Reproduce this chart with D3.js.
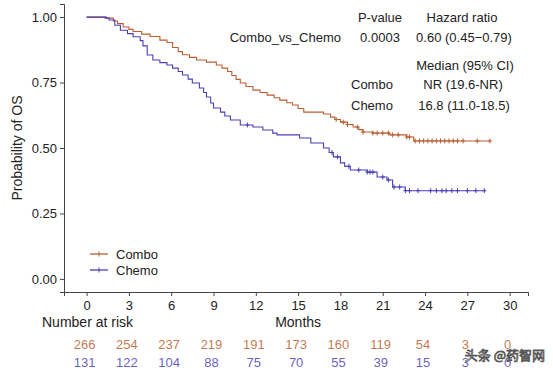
<!DOCTYPE html>
<html>
<head>
  <meta charset="utf-8">
  <title>OS Kaplan-Meier</title>
  <script src="https://cdn.jsdelivr.net/npm/d3@7"></script>
  <style>
    body { margin: 0; background: #fff; }
    svg { font-family: "Liberation Sans", Arial, sans-serif; }
    .axis path, .axis line { stroke: #444; }
    .axis text { fill: #222; font-size: 13px; }
    text.note { font-size: 13px; fill: #222; }
  </style>
</head>
<body>
<svg id="km"></svg>
<script>
// Kaplan-Meier steps (months, survival probability)
var comboTime = [0, 1.3, 1.9, 2.2, 2.6, 3.0, 3.3, 3.9, 4.5, 5.2, 5.7, 6.1, 6.5, 6.8, 7.3, 7.8, 8.5, 9.2, 9.6, 10.0,
  10.3, 10.6, 10.9, 11.3, 11.8, 12.3, 12.8, 13.3, 13.7, 14.2, 14.6, 15.0, 15.4, 16.8, 17.3, 17.6, 18.0, 18.5, 18.9, 19.3,
  19.6, 20.3, 21.5, 22.7, 23.2];
var comboSurv = [1, 0.996, 0.985, 0.975, 0.962, 0.953, 0.945, 0.935, 0.926, 0.912, 0.903, 0.884, 0.868, 0.856, 0.846, 0.836, 0.828, 0.817, 0.805, 0.792,
  0.777, 0.762, 0.748, 0.735, 0.721, 0.712, 0.702, 0.692, 0.683, 0.673, 0.664, 0.651, 0.637, 0.630, 0.618, 0.609, 0.599, 0.590, 0.580, 0.570,
  0.561, 0.557, 0.550, 0.542, 0.527];
var comboEnd = 28.6;
var comboCensor = [17.7, 18.2, 18.5, 19.2, 19.6, 20.3, 20.6, 21.0, 21.4, 21.7, 22.1, 22.7, 22.9, 23.3, 23.6, 23.9,
  24.2, 24.5, 24.8, 25.1, 25.4, 25.7, 26.0, 26.3, 26.7, 27.7, 28.6];

var chemoTime = [0, 1.4, 1.6, 2.0, 2.4, 2.9, 3.3, 3.8, 4.0, 4.3, 4.7, 5.2, 5.7, 6.1, 6.5, 6.8, 7.2, 7.5, 8.0, 8.3,
  8.5, 8.8, 9.0, 9.5, 9.8, 10.2, 10.9, 11.8, 12.5, 13.2, 13.5, 15.1, 15.9, 16.8, 17.2, 17.5, 18.0, 18.3, 18.7, 19.9,
  20.6, 21.3, 21.7, 22.6];
var chemoSurv = [1, 0.996, 0.989, 0.969, 0.950, 0.937, 0.925, 0.910, 0.890, 0.855, 0.836, 0.826, 0.817, 0.805, 0.792, 0.779, 0.763, 0.748, 0.729, 0.712,
  0.695, 0.672, 0.653, 0.637, 0.622, 0.607, 0.588, 0.580, 0.569, 0.557, 0.550, 0.538, 0.519, 0.500, 0.483, 0.466, 0.443, 0.430, 0.416, 0.408,
  0.389, 0.378, 0.351, 0.337];
var chemoEnd = 28.3;
var chemoCensor = [11.4, 17.4, 17.8, 18.6, 19.3, 19.9, 20.1, 20.3, 21.0, 21.4, 21.8, 22.2, 22.6, 22.9, 23.5,
  24.4, 24.8, 25.2, 25.5, 25.9, 26.3, 27.0, 27.6, 28.2];

var xTicks = [0, 3, 6, 9, 12, 15, 18, 21, 24, 27, 30];
var yTicks = [0, 0.25, 0.5, 0.75, 1];
var comboRisk = [266, 254, 237, 219, 191, 173, 160, 119, 54, 3, 0];
var chemoRisk = [131, 122, 104, 88, 75, 70, 55, 39, 15, 3, 0];

var comboColor = '#b95f30', chemoColor = '#4b3fb8';
var width = 553, height = 371;

var svg = d3.select('#km')
  .attr('width', width)
  .attr('height', height);

var x = d3.scaleLinear().domain([-1.6, 31.3]).range([64, 528]);
var y = d3.scaleLinear().domain([-0.05, 1.05]).range([292, 4]);

// axes
svg.append('g')
  .attr('class', 'axis')
  .attr('transform', 'translate(0,292)')
  .call(d3.axisBottom(x).tickValues(xTicks).tickSizeOuter(0).tickSize(4).tickPadding(5));

svg.append('g')
  .attr('class', 'axis')
  .attr('transform', 'translate(64,0)')
  .call(d3.axisLeft(y).tickValues(yTicks).tickFormat(d3.format('.2f')).tickSizeOuter(0).tickSize(4).tickPadding(3));

svg.append('text')
  .attr('transform', 'translate(22,148) rotate(-90)')
  .attr('text-anchor', 'middle')
  .style('font-size', '14px')
  .attr('fill', '#222')
  .text('Probability of OS');

// survival curves
function survAt(times, surv, t) {
  var i = d3.bisectRight(times, t) - 1;
  return surv[Math.max(0, i)];
}

var groups = [
  { time: comboTime, surv: comboSurv, end: comboEnd, censor: comboCensor, color: comboColor },
  { time: chemoTime, surv: chemoSurv, end: chemoEnd, censor: chemoCensor, color: chemoColor }
];

var line = d3.line()
  .x(d => x(d[0]))
  .y(d => y(d[1]))
  .curve(d3.curveStepAfter);

groups.forEach(function (g) {
  var pts = g.time.map((t, i) => [t, g.surv[i]]);
  pts.push([g.end, g.surv[g.surv.length - 1]]);
  svg.append('path')
    .datum(pts)
    .attr('fill', 'none')
    .attr('stroke', g.color)
    .attr('stroke-width', 1.1)
    .attr('d', line);

  var cs = svg.append('g').attr('stroke', g.color).attr('stroke-width', 1);
  cs.selectAll('line.v')
    .data(g.censor)
    .enter()
    .append('line')
    .attr('x1', d => x(d)).attr('x2', d => x(d))
    .attr('y1', d => y(survAt(g.time, g.surv, d)) - 2.5)
    .attr('y2', d => y(survAt(g.time, g.surv, d)) + 2.5);
  cs.selectAll('line.h')
    .data(g.censor)
    .enter()
    .append('line')
    .attr('x1', d => x(d) - 2).attr('x2', d => x(d) + 2)
    .attr('y1', d => y(survAt(g.time, g.surv, d)))
    .attr('y2', d => y(survAt(g.time, g.surv, d)));
});

// legend
var legend = [{ name: 'Combo', color: comboColor }, { name: 'Chemo', color: chemoColor }];
legend.forEach(function (l, i) {
  var ly = 254 + i * 16;
  svg.append('line').attr('x1', 90).attr('x2', 108).attr('y1', ly).attr('y2', ly)
    .attr('stroke', l.color).attr('stroke-width', 1.3);
  svg.append('line').attr('x1', 99).attr('x2', 99).attr('y1', ly - 2.5).attr('y2', ly + 2.5)
    .attr('stroke', l.color);
  svg.append('text').attr('class', 'note').attr('x', 116).attr('y', ly + 4.5).text(l.name);
});

// test results and medians
svg.append('text').attr('class', 'note').attr('x', 380).attr('y', 22).attr('text-anchor', 'middle').text('P-value');
svg.append('text').attr('class', 'note').attr('x', 462).attr('y', 22).attr('text-anchor', 'middle').text('Hazard ratio');
svg.append('text').attr('class', 'note').attr('x', 341).attr('y', 42).attr('text-anchor', 'end').text('Combo_vs_Chemo');
svg.append('text').attr('class', 'note').attr('x', 380).attr('y', 42).attr('text-anchor', 'middle').text('0.0003');
svg.append('text').attr('class', 'note').attr('x', 464).attr('y', 42).attr('text-anchor', 'middle').text('0.60 (0.45\u22120.79)');
svg.append('text').attr('class', 'note').attr('x', 465).attr('y', 70).attr('text-anchor', 'middle').text('Median (95% CI)');
svg.append('text').attr('class', 'note').attr('x', 351).attr('y', 89).text('Combo');
svg.append('text').attr('class', 'note').attr('x', 463).attr('y', 89).attr('text-anchor', 'middle').text('NR (19.6-NR)');
svg.append('text').attr('class', 'note').attr('x', 351).attr('y', 110).text('Chemo');
svg.append('text').attr('class', 'note').attr('x', 464).attr('y', 110).attr('text-anchor', 'middle').text('16.8 (11.0-18.5)');

// risk table
svg.append('text').attr('x', 42).attr('y', 327).style('font-size', '14px').attr('fill', '#222').text('Number at risk');
svg.append('text').attr('x', x(15)).attr('y', 327).attr('text-anchor', 'middle').style('font-size', '14px').attr('fill', '#222').text('Months');

[{ vals: comboRisk, color: comboColor, yy: 349 }, { vals: chemoRisk, color: chemoColor, yy: 367 }].forEach(function (r) {
  svg.append('g').selectAll('text')
    .data(r.vals)
    .enter()
    .append('text')
    .attr('x', (d, i) => x(xTicks[i]) - 2)
    .attr('y', r.yy)
    .attr('text-anchor', 'middle')
    .style('font-size', '13px')
    .attr('fill', r.color)
    .attr('fill-opacity', 0.85)
    .text(d => d);
});

// watermark
svg.append('text')
  .attr('x', 545).attr('y', 360)
  .attr('text-anchor', 'end')
  .style('font-family', '"Noto Sans CJK SC", sans-serif')
  .style('font-size', '13px')
  .attr('fill', '#fff')
  .attr('stroke', '#555')
  .attr('stroke-width', 0.8)
  .text('头条 @药智网');
</script>
</body>
</html>
